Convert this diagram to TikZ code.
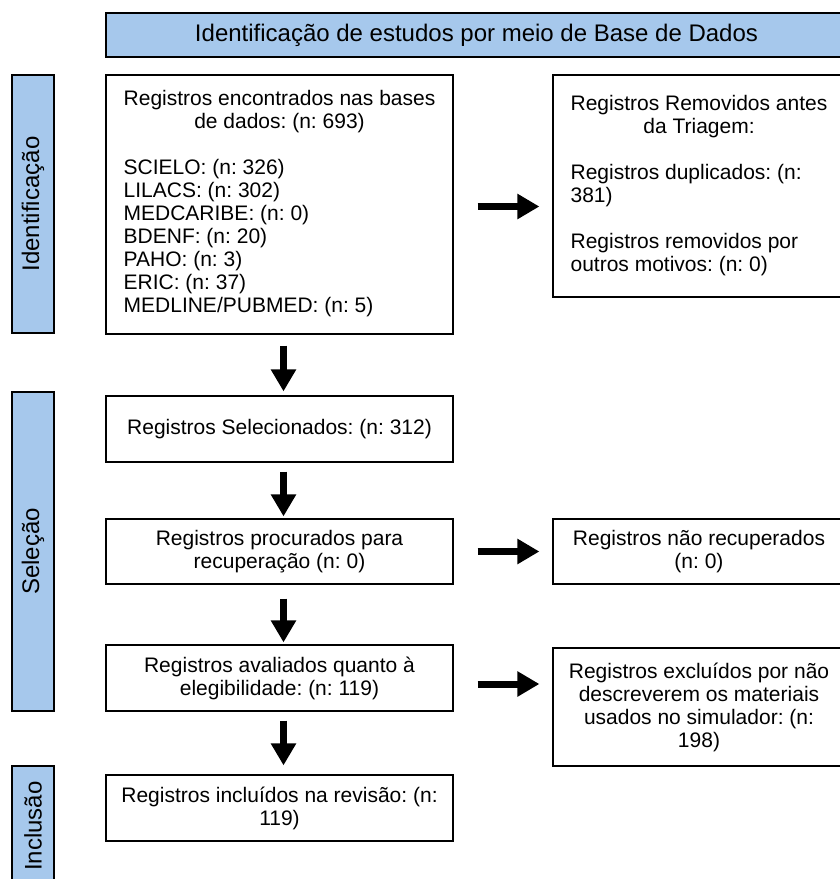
\documentclass[tikz,border=0pt]{standalone}
\usepackage{fontspec}
\setmainfont{Liberation Sans}
\usetikzlibrary{arrows.meta}

\definecolor{azulclaro}{RGB}{166,200,236}

\tikzset{
  caixa/.style={draw, line width=1.2pt, inner sep=0pt,
    font=\fontsize{21}{23}\selectfont, align=center},
  faixa/.style={draw, line width=2pt, fill=azulclaro, inner sep=0pt,
    rotate=90, minimum height=42pt, font=\fontsize{24}{26}\selectfont},
  seta/.style={line width=7pt, -{Triangle[length=22pt,width=24pt]}},
}

\frenchspacing

\begin{document}
\begin{tikzpicture}[x=1pt,y=-1pt]

\useasboundingbox (0,0) rectangle (840,879);

% Cabeçalho
\node[draw, line width=2pt, fill=azulclaro,
  minimum width=741pt, minimum height=44pt,
  font=\fontsize{24}{26}\selectfont]
(cabecalho) at (476.5,35)
{Identificação de estudos por meio de Base de Dados};

% Faixas laterais
\node[faixa, minimum width=258pt]
(faixaid) at (33,204)
{Identificação};

\node[faixa, minimum width=319pt]
(faixasel) at (33,551.5)
{Seleção};

\node[faixa, minimum width=120pt]
(faixainc) at (33,826)
{Inclusão};

% Caixas da esquerda
\node[caixa, minimum width=347pt, minimum height=259pt]
(encontrados) at (279.5,204.5)
{\begin{tabular}{@{}l@{}}
\multicolumn{1}{@{}c@{}}{Registros encontrados nas bases}\\
\multicolumn{1}{@{}c@{}}{de dados: (n: 693)}\\[23pt]
SCIELO: (n: 326)\\
LILACS: (n: 302)\\
MEDCARIBE: (n: 0)\\
BDENF: (n: 20)\\
PAHO: (n: 3)\\
ERIC: (n: 37)\\
MEDLINE/PUBMED: (n: 5)
\end{tabular}};

\node[caixa, minimum width=347pt, minimum height=66pt]
(selecionados) at (279.5,429)
{Registros Selecionados: (n: 312)};

\node[caixa, minimum width=347pt, minimum height=65pt]
(procurados) at (279.5,551.5)
{Registros procurados para\\recuperação (n: 0)};

\node[caixa, minimum width=347pt, minimum height=66pt]
(avaliados) at (279.5,678)
{Registros avaliados quanto à\\elegibilidade: (n: 119)};

\node[caixa, minimum width=347pt, minimum height=66pt]
(incluidos) at (279.5,808)
{Registros incluídos na revisão: (n:\\119)};

% Caixas da direita
\node[caixa, minimum width=292pt, minimum height=222pt]
(removidos) at (699,186)
{\begin{tabular}{@{}l@{}}
\multicolumn{1}{@{}c@{}}{Registros Removidos antes}\\
\multicolumn{1}{@{}c@{}}{da Triagem:}\\[23pt]
Registros duplicados: (n:\\
381)\\[23pt]
Registros removidos por\\
outros motivos: (n: 0)
\end{tabular}};

\node[caixa, minimum width=292pt, minimum height=65pt]
(naorecuperados) at (699,551.5)
{Registros não recuperados\\(n: 0)};

\node[caixa, minimum width=292pt, minimum height=118pt]
(excluidos) at (699,707)
{Registros excluídos por não\\descreverem os materiais\\usados no simulador: (n:\\198)};

% Setas para baixo
\draw[seta, shorten <=11pt, shorten >=4pt]
([xshift=4pt]encontrados.south)
--
([xshift=4pt]selecionados.north);

\draw[seta, shorten <=9pt, shorten >=2pt]
([xshift=4pt]selecionados.south)
--
([xshift=4pt]procurados.north);

\draw[seta, shorten <=14pt, shorten >=2pt]
([xshift=4pt]procurados.south)
--
([xshift=4pt]avaliados.north);

\draw[seta, shorten <=9pt, shorten >=9pt]
([xshift=4pt]avaliados.south)
--
([xshift=4pt]incluidos.north);

% Setas para a direita
\draw[seta, shorten <=24pt, shorten >=13pt]
([yshift=-2pt]encontrados.east)
--
([yshift=-2pt]encontrados.east -| removidos.west);

\draw[seta, shorten <=24pt, shorten >=13pt]
(procurados.east)
--
(naorecuperados.west);

\draw[seta, shorten <=24pt, shorten >=13pt]
([yshift=-6pt]avaliados.east)
--
([yshift=-6pt]avaliados.east -| excluidos.west);

\end{tikzpicture}
\end{document}
